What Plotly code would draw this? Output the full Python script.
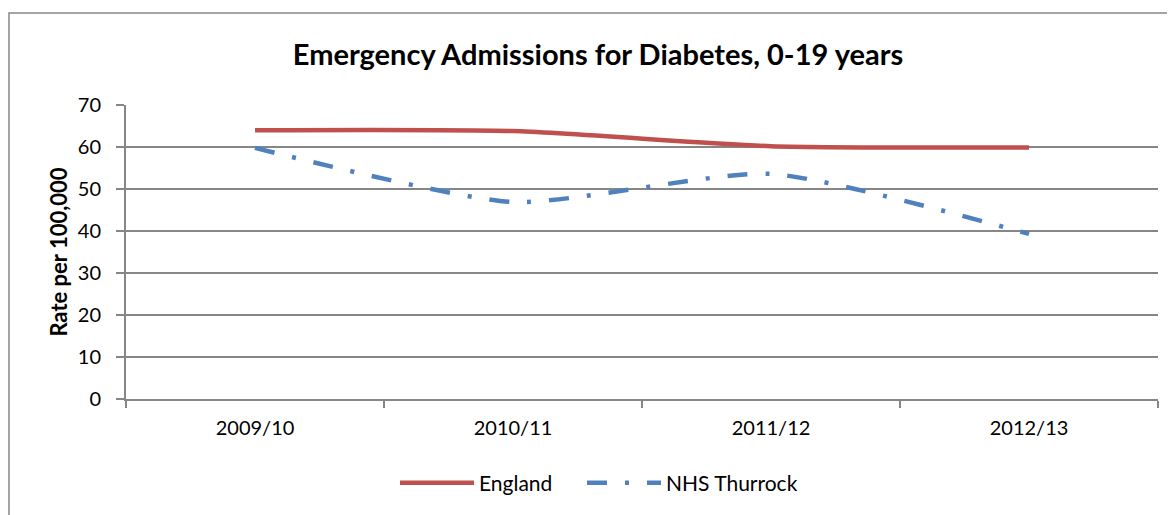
import plotly.graph_objects as go

categories = ["2009/10", "2010/11", "2011/12", "2012/13"]
england = [64.0, 63.8, 60.2, 59.9]
thurrock = [59.8, 46.9, 53.6, 39.3]
y_ticks = [0, 10, 20, 30, 40, 50, 60, 70]

FONT = "Lato, Carlito, Calibri, sans-serif"
GRID = "#868686"

fig = go.Figure()
fig.add_trace(go.Scatter(
    x=categories, y=england, name="England", mode="lines", legend="legend",
    line=dict(color="#C0504D", width=4.5, shape="spline", smoothing=0.6),
))
fig.add_trace(go.Scatter(
    x=categories, y=thurrock, name="NHS Thurrock", mode="lines", legend="legend2",
    line=dict(color="#4F81BD", width=4.5, shape="spline", smoothing=0.6,
              dash="20px,18px,4px,18px"),
))

# page body has an 8px margin; figure sized so its right/bottom edges meet the window
OFF = 8
W, H = 1175 - OFF, 515 - OFF
L, R, T, B = 126 - OFF, 17, 105 - OFF, 116
pw, ph = W - L - R, H - T - B

def px_x(sx):
    return (sx - OFF - L) / pw

def px_y(sy):
    return (H - B - (sy - OFF)) / ph

fig.add_shape(type="rect", xref="paper", yref="paper",
              x0=px_x(9), x1=px_x(1190), y0=px_y(540), y1=px_y(13),
              line=dict(color=GRID, width=1.5), fillcolor="rgba(0,0,0,0)", layer="below")

legend_common = dict(orientation="h", yanchor="middle", xanchor="left",
                     font=dict(family=FONT, size=21), bgcolor="rgba(0,0,0,0)",
                     itemwidth=74)

fig.update_layout(
    width=W, height=H,
    margin=dict(l=L, r=R, t=T, b=B),
    paper_bgcolor="white", plot_bgcolor="white",
    font=dict(family=FONT, size=20, color="black"),
    title=dict(text="<b>Emergency Admissions for Diabetes, 0-19 years</b>",
               x=px_x(598), xref="paper", xanchor="center",
               y=1 - (55 - OFF) / H, yanchor="middle",
               font=dict(family=FONT, size=29, color="black")),
    showlegend=True,
    legend=dict(x=px_x(395), y=px_y(483), **legend_common),
    legend2=dict(x=px_x(582), y=px_y(483), **legend_common),
    xaxis=dict(type="category", range=[-0.5, 3.5], tickson="boundaries",
               ticks="outside", ticklen=7, tickcolor=GRID, tickwidth=2,
               showline=True, linecolor=GRID, linewidth=2,
               showgrid=False, tickfont=dict(size=20), ticklabelstandoff=10,
               fixedrange=True),
    yaxis=dict(range=[0, 70], tickvals=y_ticks, ticks="outside", ticklen=8,
               tickcolor=GRID, tickwidth=2,
               showline=True, linecolor=GRID, linewidth=2,
               showgrid=True, gridcolor=GRID, gridwidth=2,
               zeroline=False, tickfont=dict(size=20), ticklabelstandoff=11,
               title=dict(text="<b>Rate per 100,000</b>", font=dict(size=22), standoff=4),
               fixedrange=True),
)

fig.write_html("out.html")
